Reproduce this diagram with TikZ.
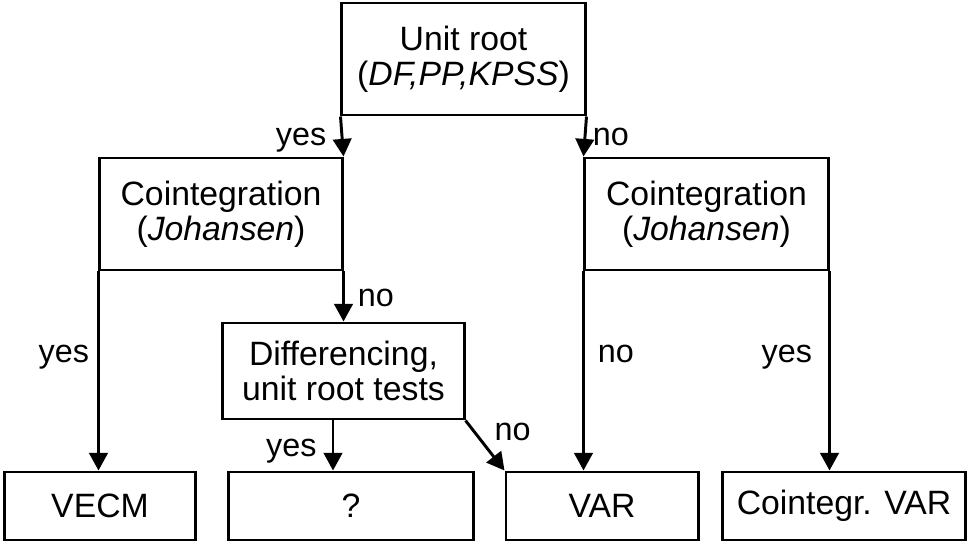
\documentclass[tikz,border=0pt]{standalone}
\usepackage{fontspec}
\setmainfont{Liberation Sans}
\usetikzlibrary{arrows.meta,calc}
\tikzset{
box/.style={draw, line width=2.1pt, align=center, inner sep=0pt, font=\fontsize{24}{25}\selectfont},
arr/.style={line width=2.1pt, -{Triangle[width=0.46cm,length=0.44cm]}},
lbl/.style={inner sep=0pt, font=\fontsize{23}{25}\selectfont}
}
\begin{document}
\begin{tikzpicture}[x=0.025cm,y=-0.025cm]
\useasboundingbox (0,0) rectangle (968,542);
\node[box, minimum width=6.075cm, minimum height=2.8cm] (root) at (463.5,59) {Unit root\\(\textit{DF,PP,KPSS})};
\node[box, minimum width=6.05cm, minimum height=2.8cm] (coL) at (221,214) {Cointegration\\(\textit{Johansen})};
\node[box, minimum width=6.075cm, minimum height=2.8cm] (coR) at (706.5,214) {Cointegration\\(\textit{Johansen})};
\node[box, minimum width=6.025cm, minimum height=2.4cm] (diff) at (343.5,371) {Differencing,\\unit root tests};
\node[box, minimum width=4.75cm, minimum height=1.7cm] (vecm) at (100,506) {VECM};
\node[box, minimum width=6.1cm, minimum height=1.7cm] (quest) at (351,506) {?};
\node[box, minimum width=4.8cm, minimum height=1.7cm] (var) at (602,506) {VAR};
\node[box, minimum width=6.05cm, minimum height=1.7cm] (cvar) at (844,506) {Cointegr. VAR};
\draw[arr] (root.south west) -- node[lbl, pos=0.72, anchor=base east, xshift=-0.375cm] (l1) {yes} (coL.north east);
\draw[arr] (root.south east) -- node[lbl, pos=0.72, anchor=base west, xshift=0.175cm] (l2) {no} (coR.north west);
\draw[arr] (coL.south west) -- node[lbl, pos=0.455, anchor=base east, xshift=-0.2cm] (l3) {yes} (coL.south west |- vecm.north);
\draw[arr] (coL.south east) -- node[lbl, pos=0.7, anchor=base west, xshift=0.325cm] (l4) {no} (coL.south east |- diff.north);
\draw[arr] (coR.south west) -- node[lbl, pos=0.455, anchor=base west, xshift=0.325cm] (l5) {no} (coR.south west |- var.north);
\draw[arr] (coR.south east) -- node[lbl, pos=0.455, anchor=base east, xshift=-0.4cm] (l6) {yes} (coR.south east |- cvar.north);
\draw[arr] ($(diff.south)+(-10.5,0)$) coordinate (d1) -- node[lbl, pos=0.72, anchor=base east, xshift=-0.375cm] (l7) {yes} (d1 |- quest.north);
\draw[arr] (diff.south east) -- node[lbl, pos=0.4, anchor=base west, xshift=0.3cm] (l8) {no} (var.north west);
\end{tikzpicture}
\end{document}
